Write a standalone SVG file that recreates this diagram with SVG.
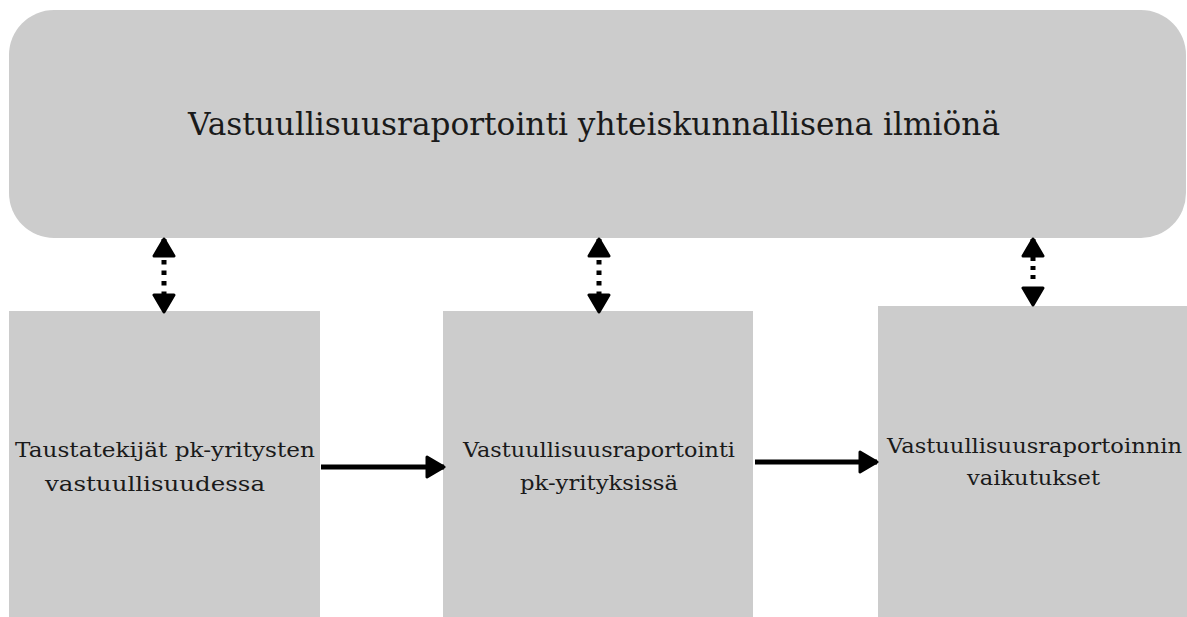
<svg xmlns="http://www.w3.org/2000/svg" width="1187" height="617" viewBox="0 0 1187 617">
<style>
.box{fill:#cccccc;}
.lbl{font-family:"DejaVu Serif","Liberation Serif",serif;fill:#1a1a1a;}
.t1{font-size:31px;}
.t2{font-size:21px;}
.solid{stroke:#000;stroke-width:5;fill:none;}
.dot{stroke:#000;stroke-width:5;fill:none;}
</style>
<defs>
<marker id="ah" viewBox="0 0 21 25" markerWidth="21" markerHeight="25" refX="19" refY="12.5" orient="auto-start-reverse" markerUnits="userSpaceOnUse">
<path d="M2,2.5 L19,12.5 L2,22.5 Z" fill="#000" stroke="#000" stroke-width="3" stroke-linejoin="round"/>
</marker>
</defs>
<rect width="1187" height="617" fill="#ffffff"/>
<g id="top">
<rect class="box" x="9" y="10" width="1177" height="228" rx="45" ry="45"/>
<text class="lbl t1" x="188" y="135" textLength="812" lengthAdjust="spacingAndGlyphs">Vastuullisuusraportointi yhteiskunnallisena ilmiönä</text>
</g>
<g id="box1">
<rect class="box" x="9" y="311" width="311" height="306"/>
<text class="lbl t2" x="15" y="457" textLength="300" lengthAdjust="spacingAndGlyphs">Taustatekijät pk-yritysten</text>
<text class="lbl t2" x="45" y="491" textLength="220" lengthAdjust="spacingAndGlyphs">vastuullisuudessa</text>
</g>
<g id="box2">
<rect class="box" x="443" y="311" width="310" height="306"/>
<text class="lbl t2" x="463" y="457" textLength="272" lengthAdjust="spacingAndGlyphs">Vastuullisuusraportointi</text>
<text class="lbl t2" x="520" y="490" textLength="158" lengthAdjust="spacingAndGlyphs">pk-yrityksissä</text>
</g>
<g id="box3">
<rect class="box" x="878" y="306" width="309" height="311"/>
<text class="lbl t2" x="887" y="453" textLength="295" lengthAdjust="spacingAndGlyphs">Vastuullisuusraportoinnin</text>
<text class="lbl t2" x="967" y="485" textLength="133" lengthAdjust="spacingAndGlyphs">vaikutukset</text>
</g>
<g id="connectors">
<path class="solid" d="M321,467 L444,467" marker-end="url(#ah)"/>
<path class="solid" d="M755,462 L877,462" marker-end="url(#ah)"/>
<path class="dot" d="M164,239 L164,312" stroke-dasharray="4.5 6 4.5 6 4.5 6 4.5 6 4.5 6 4.5 100" marker-start="url(#ah)" marker-end="url(#ah)"/>
<path class="dot" d="M599,239 L599,312" stroke-dasharray="4.5 6 4.5 6 4.5 6 4.5 6 4.5 6 4.5 100" marker-start="url(#ah)" marker-end="url(#ah)"/>
<path class="dot" d="M1033,239 L1033,305" stroke-dasharray="4 5 4 5 4 5 4 5 4 100" marker-start="url(#ah)" marker-end="url(#ah)"/>
</g>
</svg>
